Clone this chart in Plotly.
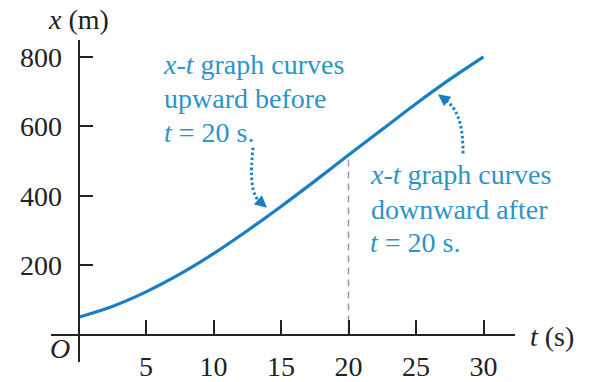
import plotly.graph_objects as go

# Position x (m) versus time t (s)
t_s = [0, 2.5, 5, 7.5, 10, 12.5, 15, 17.5, 20, 22.5, 25, 27.5, 30]
x_m = [50, 81, 123, 174, 233, 299, 369, 442, 517, 591, 665, 735, 800]

t_ticks = [5, 10, 15, 20, 25, 30]
x_ticks = [200, 400, 600, 800]
t_mark = 20  # inflection time

W, H = 589, 382
SERIF = "Liberation Serif, Times New Roman, serif"
CURVE = "#1b7ec2"
NOTE = "#2b95c8"
INK = "#222222"
FS = 28

# plot window in pixels and the matching data ranges
px_left, px_right = 51, 515
py_top, py_bottom = 41, 373
t0_px, t_scale = 78.5, 13.5       # pixel of t=0, px per second
x0_py, x_scale = 344.5, 0.3575    # pixel of x=0, px per metre

t_range = [(px_left - t0_px) / t_scale, (px_right - t0_px) / t_scale]
x_range = [(x0_py - py_bottom) / x_scale, (x0_py - py_top) / x_scale]


def to_data(px, py):
    return (px - t0_px) / t_scale, (x0_py - py) / x_scale


def fx(px):
    return px / W


def fy(py):
    return 1 - py / H


fig = go.Figure()

# dashed guide at the inflection time
x_at_mark = x_m[t_s.index(t_mark)]
fig.add_trace(go.Scatter(
    x=[t_mark, t_mark], y=[0, x_at_mark], mode="lines",
    line=dict(color="#9a9a9a", width=1.5, dash="7px,5px"),
    hoverinfo="skip", showlegend=False,
))

fig.add_trace(go.Scatter(
    x=t_s, y=x_m, mode="lines",
    line=dict(color=CURVE, width=3.2, shape="spline", smoothing=1.0),
    showlegend=False,
))

axis_common = dict(
    showgrid=False, zeroline=False, showline=True, linecolor=INK, linewidth=1.8,
    ticks="inside", ticklen=14, tickwidth=1.8, tickcolor=INK,
    tickfont=dict(family=SERIF, size=FS, color=INK),
    fixedrange=True,
)

fig.update_layout(
    width=W, height=H,
    margin=dict(l=0, r=0, t=0, b=0),
    paper_bgcolor="white", plot_bgcolor="white",
    xaxis=dict(
        domain=[fx(px_left), fx(px_right)], range=t_range,
        tickvals=t_ticks, ticktext=[str(v) for v in t_ticks],
        anchor="free", position=fy(x0_py), ticklabelstandoff=7,
        **axis_common,
    ),
    yaxis=dict(
        domain=[fy(py_bottom), fy(py_top)], range=x_range,
        tickvals=x_ticks, ticktext=[str(v) for v in x_ticks],
        anchor="free", position=fx(t0_px), ticklabelstandoff=10,
        **axis_common,
    ),
)

# axis titles and origin label
labels = [
    ("<i>x</i> (m)", 46, 20),
    ("<i>t</i> (s)", 528, 346),
]
for txt, px, py in labels:
    fig.add_annotation(text=txt, x=fx(px), y=fy(py), xref="paper", yref="paper",
                       xanchor="left", yanchor="middle", showarrow=False,
                       font=dict(family=SERIF, size=FS, color=INK))
fig.add_annotation(text="<i>O</i>", x=fx(60), y=fy(359), xref="paper", yref="paper",
                   xanchor="center", yanchor="middle", showarrow=False,
                   font=dict(family=SERIF, size=FS, color=INK))

# explanatory notes
notes = [
    ("<i>x</i>-<i>t</i> graph curves", 161, 66),
    ("upward before", 162, 101),
    ("<i>t</i> = 20 s.", 162, 136),
    ("<i>x</i>-<i>t</i> graph curves", 368, 180),
    ("downward after", 369, 216),
    ("<i>t</i> = 20 s.", 368, 250),
]
for txt, px, py in notes:
    fig.add_annotation(text=txt, x=fx(px), y=fy(py), xref="paper", yref="paper",
                       xanchor="left", yanchor="middle", showarrow=False,
                       font=dict(family=SERIF, size=FS, color=NOTE))


def bezier_path(points):
    (a, b, c, d) = [to_data(*p) for p in points]
    return (f"M {a[0]},{a[1]} C {b[0]},{b[1]} {c[0]},{c[1]} {d[0]},{d[1]}")


# dotted curved pointers
pointer_paths = [
    [(253, 152), (250, 183), (251, 202), (262, 210)],
    [(463, 158), (463, 130), (459, 112), (443, 101)],
]
for pts in pointer_paths:
    fig.add_shape(type="path", path=bezier_path(pts), xref="x", yref="y",
                  line=dict(color=CURVE, width=3, dash="2.5px,2.5px"))

# arrow heads at the ends of the pointers
heads = [((267, 214), (-8, -7)), ((438, 97), (8, 6))]
for (px, py), (ax, ay) in heads:
    tx, ty = to_data(px, py)
    fig.add_annotation(x=tx, y=ty, xref="x", yref="y", ax=ax, ay=ay,
                       showarrow=True, arrowhead=2, arrowsize=1.1, arrowwidth=2.2,
                       arrowcolor=CURVE, text="", standoff=0)

fig.write_html("out.html")
